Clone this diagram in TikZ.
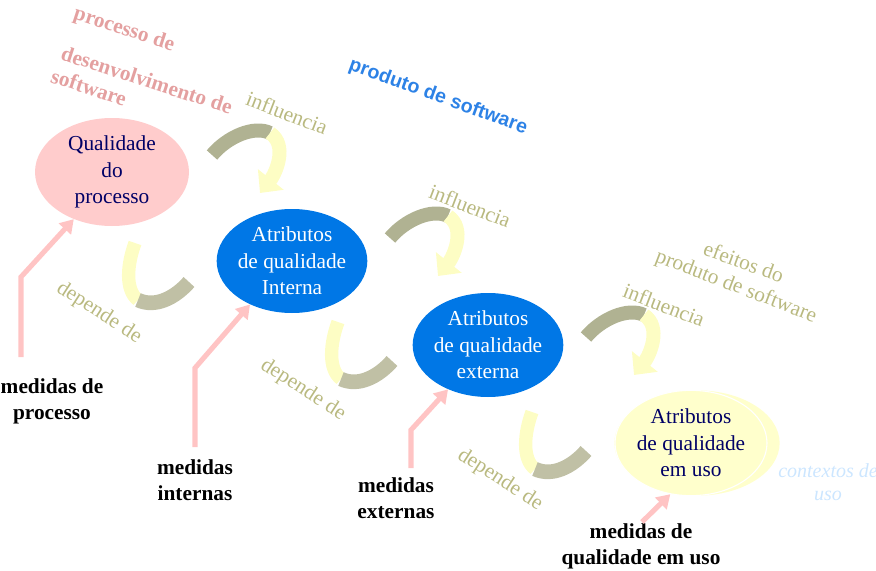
\documentclass[tikz,border=0pt]{standalone}
\usepackage{fontspec}
\setmainfont{Liberation Serif}
\newfontfamily\prodfont{Liberation Sans}
\usepackage{xcolor}
\usetikzlibrary{arrows.meta,shapes.geometric}

\definecolor{procpink}{RGB}{255,204,204}
\definecolor{attrblue}{RGB}{0,119,230}
\definecolor{usoyellow}{RGB}{255,255,204}
\definecolor{navytext}{RGB}{0,0,102}
\definecolor{olivegray}{RGB}{176,178,146}
\definecolor{bandyellow}{RGB}{253,253,196}
\definecolor{dotgray}{RGB}{192,192,165}
\definecolor{khaki}{RGB}{185,185,128}
\definecolor{pinktext}{RGB}{228,160,160}
\definecolor{prodblue}{RGB}{45,130,230}
\definecolor{ctxblue}{RGB}{204,230,255}
\definecolor{measpink}{RGB}{255,196,196}

% curved arrow: olive back, yellow head
\newcommand{\influarrow}[1]{%
  \begin{scope}[shift={#1}]
    \draw[olivegray, line width=10.5pt] (0,0) .. controls (15,-18) and (42,-30) .. (58,-22);
    \draw[bandyellow, line width=10.5pt, -{Triangle[length=13pt,width=24pt]}] (58,-22) .. controls (76,-10) and (64,18) .. (48,38);
  \end{scope}}
% bent ribbon: yellow top, grey bottom
\newcommand{\dependribbon}[1]{%
  \begin{scope}[shift={#1}]
    \draw[bandyellow, line width=10pt] (0,0) .. controls (-8,22) and (-10,47) .. (3,57);
    \draw[dotgray, line width=11pt] (3,57) .. controls (20,65) and (40,55) .. (54,39);
  \end{scope}}

\begin{document}
\begin{tikzpicture}[x=0.75pt, y=-0.75pt,
  attr/.style={ellipse, inner sep=0pt, minimum width=113pt, minimum height=78pt},
  attrtext/.style={align=center, font=\fontsize{16}{20}\selectfont},
  meastext/.style={align=center, font=\fontsize{16}{19.5}\selectfont\bfseries},
  measarrow/.style={measpink, line width=3.8pt, -{Triangle[length=10pt,width=12pt]}},
  influlabel/.style={khaki, font=\fontsize{16}{19}\selectfont, rotate=-21},
  deplabel/.style={khaki, font=\fontsize{16}{19}\selectfont, rotate=-33},
  pinklabel/.style={pinktext, font=\fontsize{16}{19}\selectfont\bfseries, rotate=-18}]
  \useasboundingbox (0,0) rectangle (876,571);

  % headings
  \node[pinklabel] (devA) at (124,30) {processo de};
  \node[pinklabel] (devB) at (147,80) {desenvolvimento de};
  \node[pinklabel] (devC) at (89,87) {software};
  \node[prodblue, font=\prodfont\fontsize{14.7}{17}\selectfont\bfseries, rotate=-20] (prod) at (438,97) {produto de software};
  \node[khaki, font=\fontsize{16}{19}\selectfont, rotate=-20] (efA) at (744,262) {efeitos do};
  \node[khaki, font=\fontsize{16}{19}\selectfont, rotate=-21] (efB) at (736,287) {produto de software};

  % quality ellipses
  \node[attr, fill=procpink, minimum width=115.5pt, minimum height=81pt] (qp) at (112,172) {};
  \node[attrtext, navytext] (qp-t) at (qp) {Qualidade\\do\\processo};
  \node[attr, fill=attrblue] (ai) at (292,261) {};
  \node[attrtext, white] (ai-t) at (ai) {Atributos\\de qualidade\\Interna};
  \node[attr, fill=attrblue] (ae) at (488,345) {};
  \node[attrtext, white] (ae-t) at (ae) {Atributos\\de qualidade\\externa};
  \node[attr, fill=usoyellow, minimum width=124pt, minimum height=79pt] (au-back) at (697,443) {};
  \node[attr, fill=usoyellow, draw=white, line width=0.8pt, minimum width=114pt, minimum height=79pt] (au) at (691,443) {};
  \node[attrtext, navytext] (au-t) at (au) {Atributos\\de qualidade\\em uso};
  \node[ctxblue, align=center, font=\fontsize{15}{17.5}\selectfont\itshape] (ctx) at (828,482) {contextos de\\uso};

  % influencia
  \influarrow{(212,155)}
  \influarrow{(390,238)}
  \influarrow{(586,337)}
  \node[influlabel] (inA) at (287,113) {influencia};
  \node[influlabel] (inB) at (470,206) {influencia};
  \node[influlabel] (inC) at (664,305) {influencia};

  % depende de
  \dependribbon{(135,243)}
  \dependribbon{(338,322)}
  \dependribbon{(532,412)}
  \node[deplabel] (dpA) at (99,313) {depende de};
  \node[deplabel] (dpB) at (303,390) {depende de};
  \node[deplabel] (dpC) at (500,480) {depende de};

  % measures
  \node[meastext] (mproc) at (52,401) {medidas de\\processo};
  \node[meastext] (mint) at (195,480) {medidas\\internas};
  \node[meastext] (mext) at (396,498) {medidas\\externas};
  \node[meastext] (muso) at (641,546) {medidas de\\qualidade em uso};
  \coordinate (mp1) at (21,357);
  \coordinate (mp2) at (195,447);
  \coordinate (mp3) at (411,468);
  \coordinate (mp4) at (642,522);
  \draw[measarrow] (mp1) -- ++(0,-80) -- (qp.231);
  \draw[measarrow] (mp2) -- ++(0,-79) -- (ai.226);
  \draw[measarrow] (mp3) -- ++(0,-38) -- (ae.228);
  \draw[measarrow] (mp4) -- (au.248);
\end{tikzpicture}
\end{document}
